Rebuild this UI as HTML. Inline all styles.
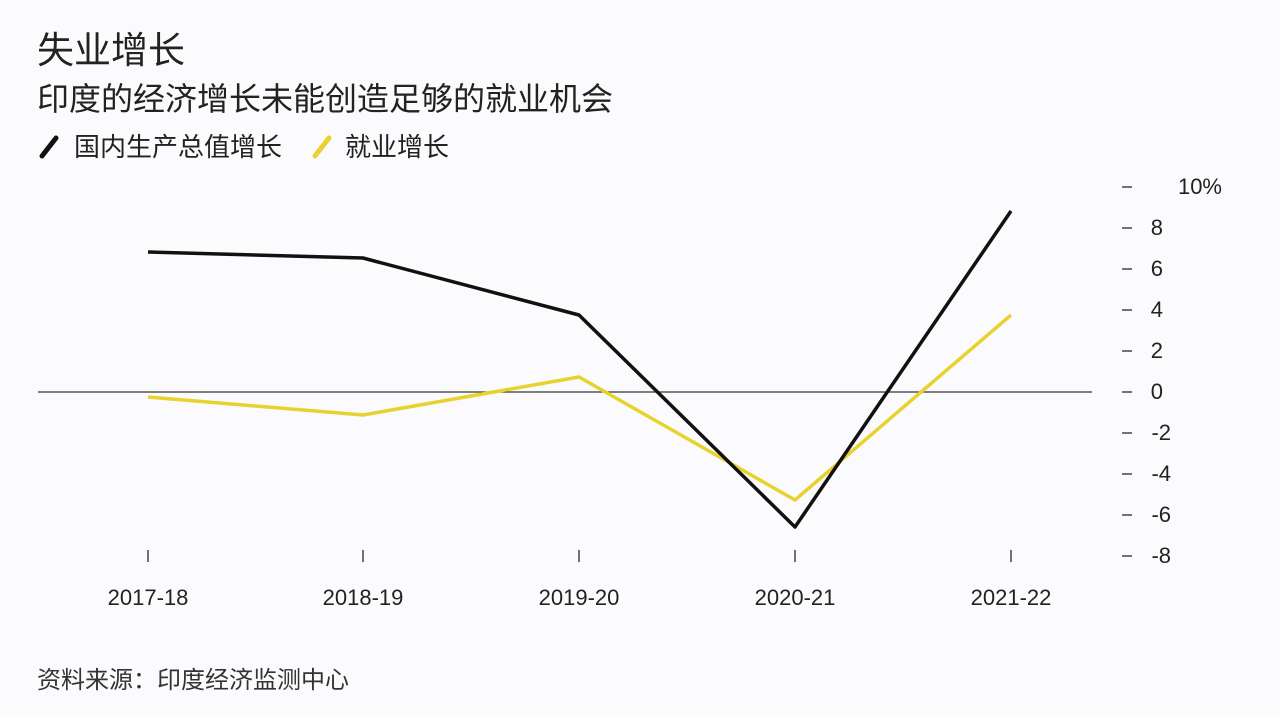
<!DOCTYPE html>
<html><head><meta charset="utf-8"><style>
html,body{margin:0;padding:0;background:#fbfbfd;}
svg{display:block;font-family:"Liberation Sans","Noto Sans CJK SC",sans-serif;}
</style></head><body>
<svg width="1280" height="716" viewBox="0 0 1280 716">
<rect width="1280" height="716" fill="#fbfbfd"/>
<text x="37" y="63" font-size="37" fill="#222">失业增长</text>
<text x="37" y="110" font-size="32" fill="#222">印度的经济增长未能创造足够的就业机会</text>
<line x1="42" y1="156" x2="56" y2="138" stroke="#111" stroke-width="5" stroke-linecap="round"/>
<text x="74" y="156" font-size="26" fill="#222">国内生产总值增长</text>
<line x1="315" y1="156" x2="329" y2="138" stroke="#e8d230" stroke-width="5" stroke-linecap="round"/>
<text x="345" y="156" font-size="26" fill="#222">就业增长</text>
<g font-size="22" fill="#222" text-anchor="end">
<text x="1222" y="194">10%</text>
<text x="1163" y="235">8</text>
<text x="1163" y="276">6</text>
<text x="1163" y="317">4</text>
<text x="1163" y="358">2</text>
<text x="1163" y="399">0</text>
<text x="1171" y="440">-2</text>
<text x="1171" y="481">-4</text>
<text x="1171" y="522">-6</text>
<text x="1171" y="563">-8</text>
</g>
<g stroke="#444" stroke-width="1.5">
<line x1="1122" y1="187" x2="1132" y2="187"/>
<line x1="1122" y1="228" x2="1132" y2="228"/>
<line x1="1122" y1="269" x2="1132" y2="269"/>
<line x1="1122" y1="310" x2="1132" y2="310"/>
<line x1="1122" y1="351" x2="1132" y2="351"/>
<line x1="1122" y1="392" x2="1132" y2="392"/>
<line x1="1122" y1="433" x2="1132" y2="433"/>
<line x1="1122" y1="474" x2="1132" y2="474"/>
<line x1="1122" y1="515" x2="1132" y2="515"/>
<line x1="1122" y1="556" x2="1132" y2="556"/>
<line x1="148" y1="550" x2="148" y2="562"/>
<line x1="363" y1="550" x2="363" y2="562"/>
<line x1="579" y1="550" x2="579" y2="562"/>
<line x1="795" y1="550" x2="795" y2="562"/>
<line x1="1011" y1="550" x2="1011" y2="562"/>
</g>
<line x1="38" y1="392" x2="1092" y2="392" stroke="#333" stroke-width="1.2"/>
<polyline points="148,397 363,415 579,377 795,500 1011,315" fill="none" stroke="#e8d230" stroke-width="3.5" stroke-linejoin="round"/>
<polyline points="148,252 363,258 579,315 795,527 1011,211" fill="none" stroke="#111" stroke-width="3.5" stroke-linejoin="round"/>
<g font-size="22" fill="#222" text-anchor="middle">
<text x="148" y="605">2017-18</text>
<text x="363" y="605">2018-19</text>
<text x="579" y="605">2019-20</text>
<text x="795" y="605">2020-21</text>
<text x="1011" y="605">2021-22</text>
</g>
<text x="37" y="688" font-size="24" fill="#333">资料来源：印度经济监测中心</text>
</svg>
</body></html>
